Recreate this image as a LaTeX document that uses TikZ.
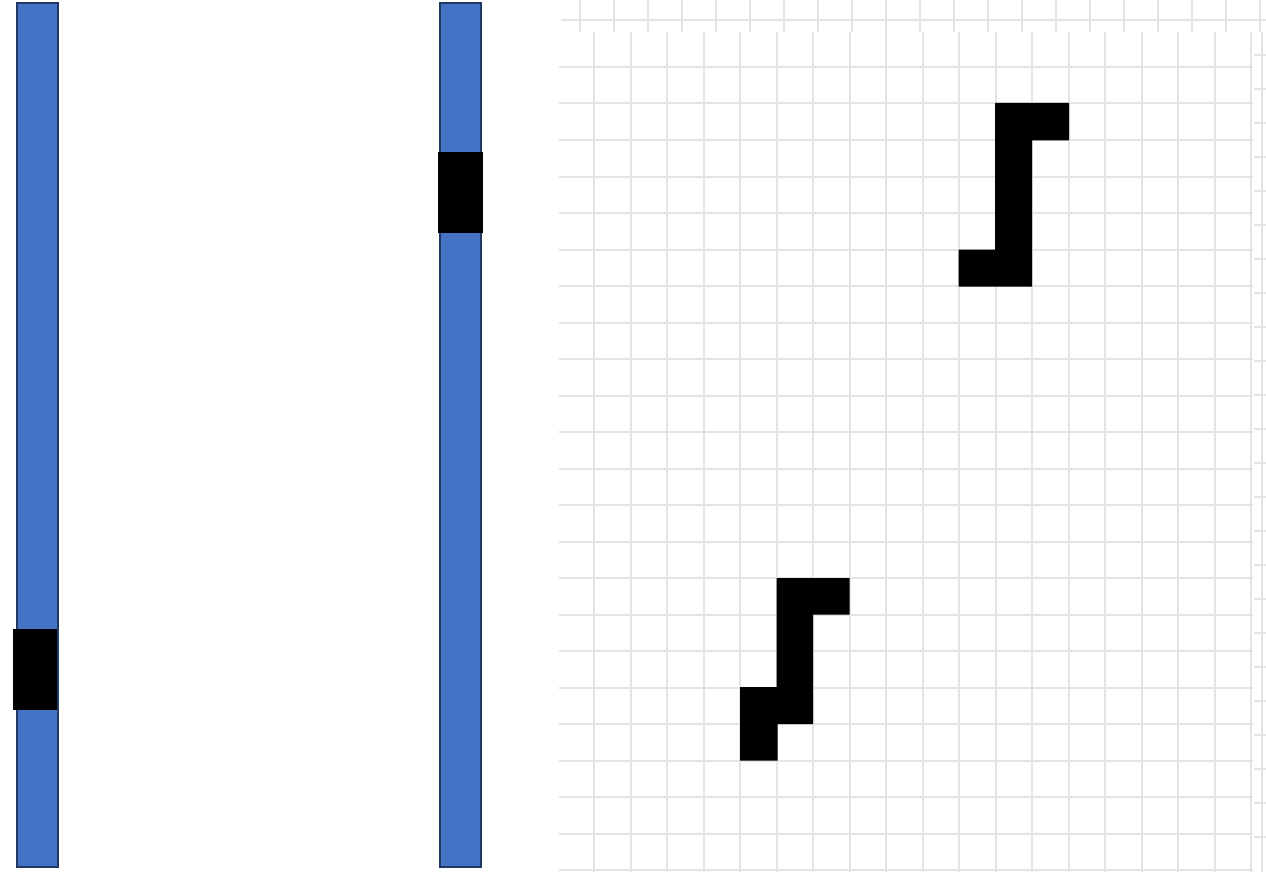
\documentclass[tikz,border=0pt]{standalone}
\begin{document}
\begin{tikzpicture}[x=1pt,y=-1pt,
  gridline/.style={draw=black!10, line width=2pt},
  bar/.style={fill=blue!45!cyan!10!black!0, draw=barborder, line width=2.4pt},
  blk/.style={fill=black, draw=none}]
\definecolor{barfill}{HTML}{4472C4}
\definecolor{barborder}{HTML}{1F3864}
\definecolor{gridgrey}{HTML}{E4E4E4}
\tikzset{bar/.style={fill=barfill, draw=barborder, line width=2.4pt},
  gridline/.style={draw=gridgrey, line width=2pt}}
\useasboundingbox (0,0) rectangle (1266,872);
% top strip
\draw[gridline] (561,20) -- (1266,20);
\foreach \k in {0,...,20} \draw[gridline] ({580+34*\k},0) -- ({580+34*\k},32);
% right strip
\draw[gridline] (1262,32) -- (1262,872);
\foreach \k in {0,...,23} \draw[gridline] (1254,{55+34*\k}) -- (1266,{55+34*\k});
% main grid
\foreach \k in {0,...,22} \draw[gridline] (559,{67+36.5*\k}) -- (1253,{67+36.5*\k});
\foreach \k in {0,...,18} \draw[gridline] ({594+36.5*\k},32) -- ({594+36.5*\k},872);
% bars
\path[bar] (17,3) rectangle (58,867);
\path[bar] (440,3) rectangle (481,867);
\path[blk] (13,629) rectangle (57,710);
\path[blk] (438,152) rectangle (483,233);
% shapes
\path[blk] (995,103) -- (1069,103) -- (1069,140.5) -- (1032,140.5) -- (1032,286.5)
  -- (958.5,286.5) -- (958.5,249.5) -- (995,249.5) -- cycle;
\path[blk] (776.5,578) -- (849.5,578) -- (849.5,614.5) -- (813,614.5) -- (813,724)
  -- (777.5,724) -- (777.5,760.5) -- (740,760.5) -- (740,687) -- (776.5,687) -- cycle;
\end{tikzpicture}
\end{document}
